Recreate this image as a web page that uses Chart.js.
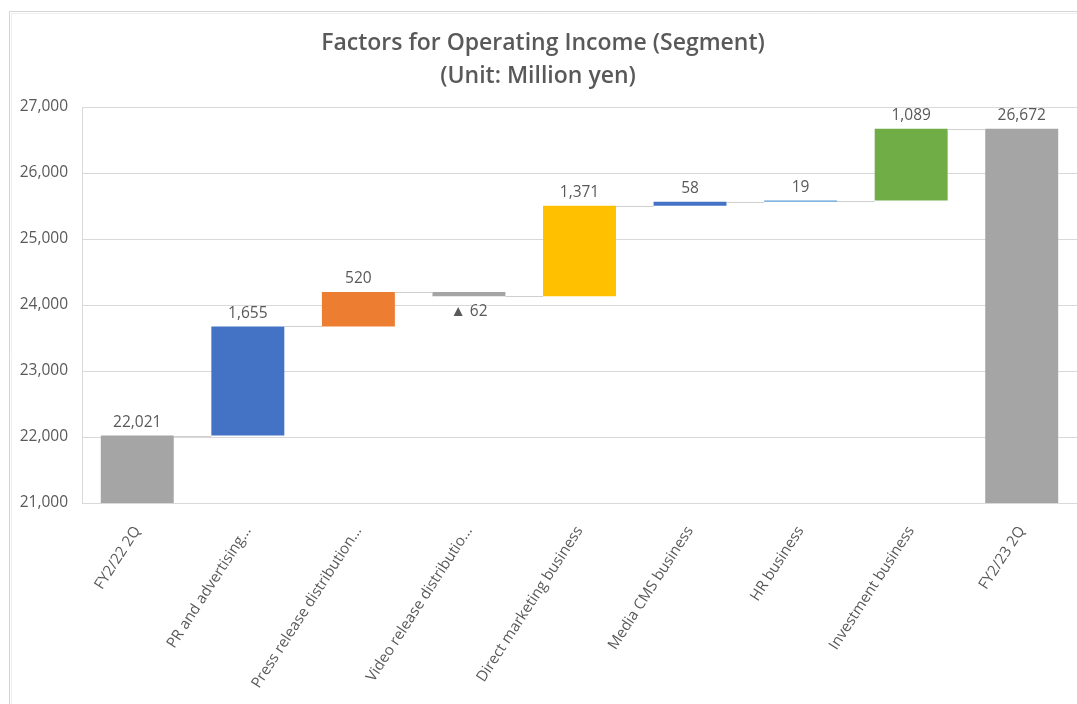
<!DOCTYPE html>
<html>
<head>
<meta charset="utf-8">
<script src="https://cdn.jsdelivr.net/npm/chart.js@4/dist/chart.umd.min.js"></script>
<style>
  html, body { margin: 0; padding: 0; background: #ffffff; }
  #wrap { position: relative; width: 1077px; height: 704px; overflow: hidden; }
  canvas { position: absolute; left: 0; top: 0; }
</style>
</head>
<body>
<div id="wrap"><canvas id="c" width="1077" height="704"></canvas></div>
<script>
// Operating income bridge, FY2/22 2Q -> FY2/23 2Q (million yen)
const categories = [
  'FY2/22 2Q',
  'PR and advertising...',
  'Press release distribution...',
  'Video release distributio...',
  'Direct marketing business',
  'Media CMS business',
  'HR business',
  'Investment business',
  'FY2/23 2Q'
];
const startTotal = 22021;
const endTotal = 26672;
const segmentChanges = [1655, 520, -62, 1371, 58, 19, 1089];
const barColors = ['#A5A5A5', '#4472C4', '#ED7D31', '#A5A5A5', '#FFC000', '#4472C4', '#5B9BD5', '#70AD47', '#A5A5A5'];
const yTicks = [21000, 22000, 23000, 24000, 25000, 26000, 27000];
const axisMin = 21000;
const axisMax = 27000;

// Floating bars: totals rise from the axis floor, segments span the running total.
const floating = [[axisMin, startTotal]];
const levels = [startTotal];
let running = startTotal;
segmentChanges.forEach(v => {
  floating.push([running, running + v]);
  running += v;
  levels.push(running);
});
floating.push([axisMin, endTotal]);

const labelValues = [startTotal, ...segmentChanges, endTotal];
const fmt = n => Math.abs(n).toLocaleString('en-US');
const labelText = v => (v < 0 ? '\u25B2 ' + fmt(v) : fmt(v));

const FONT = '"Open Sans", "Noto Sans", sans-serif';
const TEXT = '#595959';

const framePlugin = {
  id: 'frame',
  beforeDraw(chart) {
    const ctx = chart.ctx;
    ctx.save();
    ctx.fillStyle = '#ffffff';
    ctx.fillRect(0, 0, chart.width, chart.height);
    ctx.strokeStyle = '#d4d4d4';
    ctx.lineWidth = 1;
    ctx.beginPath();
    ctx.moveTo(9.5, chart.height);
    ctx.lineTo(9.5, 11.5);
    ctx.lineTo(chart.width, 11.5);
    ctx.stroke();
    ctx.strokeStyle = '#efefef';
    ctx.beginPath();
    ctx.moveTo(11.5, chart.height);
    ctx.lineTo(11.5, 13.5);
    ctx.lineTo(chart.width, 13.5);
    ctx.stroke();
    // heading
    ctx.fillStyle = TEXT;
    ctx.textAlign = 'center';
    ctx.textBaseline = 'middle';
    ctx.font = '600 23px ' + FONT;
    ctx.fillText('Factors for Operating Income (Segment)', 543, 43);
    ctx.fillText('(Unit: Million yen)', 538, 76);
    ctx.restore();
  }
};

const bridgePlugin = {
  id: 'bridge',
  afterDatasetsDraw(chart) {
    const ctx = chart.ctx;
    const meta = chart.getDatasetMeta(0);
    const y = chart.scales.y;
    ctx.save();
    // connectors between neighbouring bars at the running total
    ctx.strokeStyle = '#cfcfcf';
    ctx.lineWidth = 1;
    for (let i = 0; i < meta.data.length - 1; i++) {
      const a = meta.data[i], b = meta.data[i + 1];
      const py = Math.round(y.getPixelForValue(levels[i])) + 0.5;
      ctx.beginPath();
      ctx.moveTo(a.x + a.width / 2, py);
      ctx.lineTo(b.x - b.width / 2, py);
      ctx.stroke();
    }
    // value labels
    ctx.fillStyle = TEXT;
    ctx.font = '15.5px ' + FONT;
    ctx.textAlign = 'center';
    ctx.textBaseline = 'middle';
    meta.data.forEach((bar, i) => {
      const v = labelValues[i];
      const [lo, hi] = floating[i];
      if (v < 0) {
        ctx.fillText(labelText(v), bar.x, y.getPixelForValue(Math.min(lo, hi)) + 15);
      } else {
        ctx.fillText(labelText(v), bar.x, y.getPixelForValue(Math.max(lo, hi)) - 13);
      }
    });
    ctx.restore();
  }
};

new Chart(document.getElementById('c'), {
  type: 'bar',
  data: {
    labels: categories,
    datasets: [{
      data: floating,
      backgroundColor: barColors,
      borderWidth: 0,
      barPercentage: 0.66,
      categoryPercentage: 1
    }]
  },
  options: {
    responsive: false,
    animation: false,
    devicePixelRatio: 1,
    layout: { padding: { top: 107, left: 10, right: 0, bottom: 0 } },
    plugins: {
      legend: { display: false },
      title: { display: false },
      tooltip: { enabled: false }
    },
    scales: {
      x: {
        grid: { display: false },
        border: { display: true, color: '#d9d9d9', width: 1 },
        ticks: {
          color: TEXT,
          font: { family: FONT, size: 15 },
          minRotation: 57,
          maxRotation: 57,
          autoSkip: false,
          padding: 12
        },
        afterFit(scale) { scale.height = 201; }
      },
      y: {
        min: axisMin,
        max: axisMax,
        afterBuildTicks(scale) { scale.ticks = yTicks.map(v => ({ value: v })); },
        grid: { color: '#d9d9d9', lineWidth: 1, drawTicks: false },
        border: { display: true, color: '#d9d9d9', width: 1 },
        ticks: {
          color: TEXT,
          font: { family: FONT, size: 15.5 },
          padding: 14,
          callback: v => v.toLocaleString('en-US')
        },
        afterFit(scale) { scale.width = 72; }
      }
    }
  },
  plugins: [framePlugin, bridgePlugin]
});
</script>
</body>
</html>
